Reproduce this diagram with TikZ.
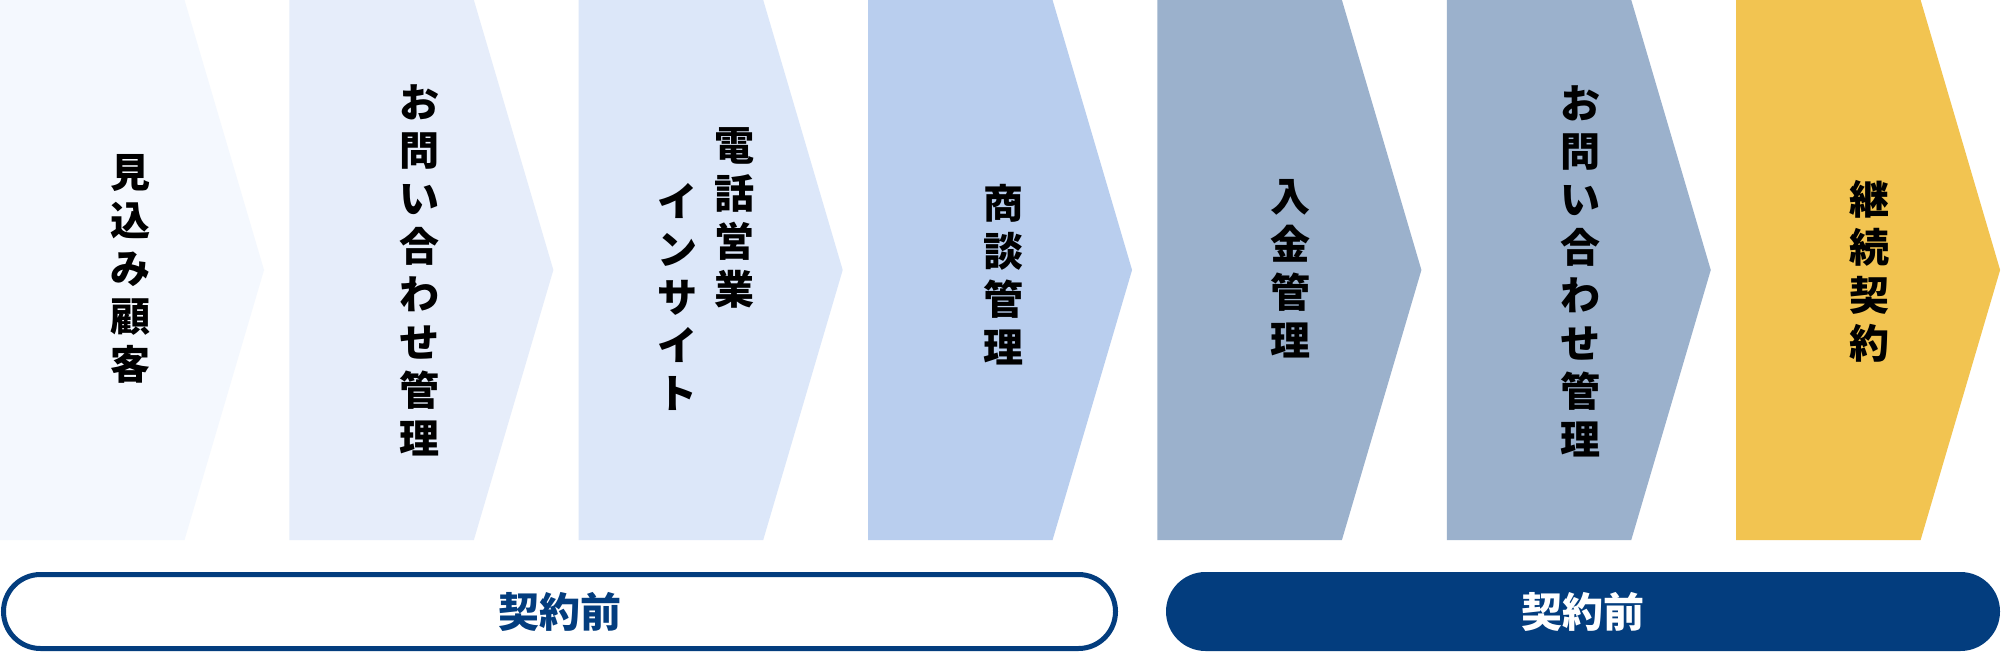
\documentclass[tikz,border=0pt]{standalone}
\usepackage{fontspec}
\newfontfamily\jp{Noto Sans CJK JP}
\definecolor{cA}{HTML}{F4F8FE}
\definecolor{cB}{HTML}{E6EDFA}
\definecolor{cC}{HTML}{DCE7F9}
\definecolor{cD}{HTML}{B9CEEE}
\definecolor{cE}{HTML}{9BB1CC}
\definecolor{cY}{HTML}{F2C451}
\definecolor{navy}{HTML}{033D7E}
\begin{document}
\begin{tikzpicture}[x=1pt,y=-1pt,
  vtext/.style={font=\jp\bfseries\fontsize{40}{48}\selectfont, align=center, inner sep=0pt, text=black},
  pilltext/.style={font=\jp\bfseries\fontsize{41}{48}\selectfont, inner sep=0pt},
  pillout/.style={draw=navy, line width=5pt, rounded corners=37pt, fill=white, text=navy, minimum width=1112pt, minimum height=74pt, pilltext},
  pillin/.style={fill=navy, rounded corners=39.5pt, text=white, minimum width=834pt, minimum height=79pt, pilltext}
]
\useasboundingbox (0,0) rectangle (2001,652);
\fill[white] (0,0) rectangle (2001,652);
% chevrons
\foreach \i/\c in {0/cA,1/cB,2/cC,3/cD,4/cE,5/cE,6/cY}{
  \pgfmathsetmacro{\L}{289.35*\i}
  \fill[\c] (\L,0) -- ({\L+184.5},0) -- ({\L+264},270) -- ({\L+184.5},540) -- (\L,540) -- cycle;
}
% texts
\node[vtext] (t1) at (130,269) {見\\込\\み\\顧\\客};
\node[vtext] (t2) at (419.5,270) {お\\問\\い\\合\\わ\\せ\\管\\理};
\node[vtext] (t3a) at (734.5,217.5) {電\\話\\営\\業};
\node[vtext] (t3b) at (677.5,296.5) {イ\\ン\\サ\\イ\\ト};
\node[vtext] (t4) at (1003.5,275) {商\\談\\管\\理};
\node[vtext] (t5) at (1290.5,269) {入\\金\\管\\理};
\node[vtext] (t6) at (1580,271) {お\\問\\い\\合\\わ\\せ\\管\\理};
\node[vtext] (t7) at (1869,271) {継\\続\\契\\約};
% phase bars
\node[pillout] (pre) at (559.5,611.5) {契約前};
\node[pillin] (post) at (1583,611.5) {契約前};
\end{tikzpicture}
\end{document}
